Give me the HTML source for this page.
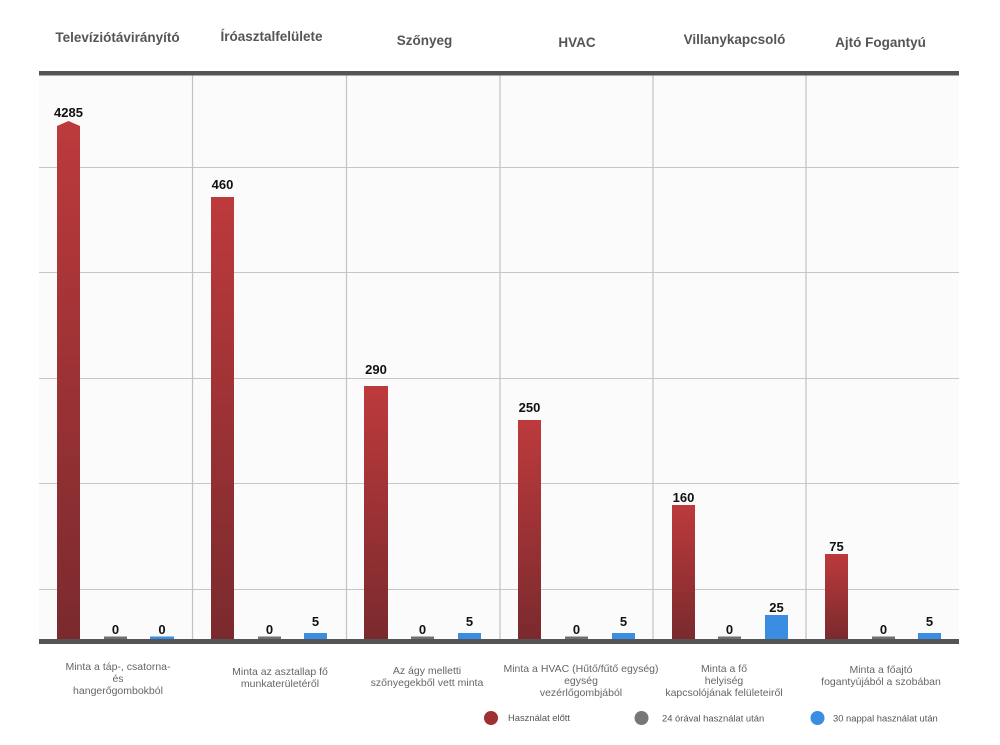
<!DOCTYPE html>
<html><head><meta charset="utf-8"><style>
html,body{margin:0;padding:0;background:#fff;}
svg{display:block;}
.t{font-family:"Liberation Sans",sans-serif;font-weight:bold;font-size:13.5px;fill:#555;text-anchor:middle;}
.v{font-family:"Liberation Sans",sans-serif;font-weight:bold;font-size:13px;fill:#111;text-anchor:middle;}
.c{font-family:"Liberation Sans",sans-serif;font-size:10.5px;fill:#666;text-anchor:middle;}
.l{font-family:"Liberation Sans",sans-serif;font-size:9.4px;fill:#555;}
</style></head><body>
<svg width="1000" height="745" viewBox="0 0 1000 745" xmlns="http://www.w3.org/2000/svg">
<defs>
<linearGradient id="rg" x1="0" y1="0" x2="0" y2="1">
<stop offset="0" stop-color="#bd3a3c"/>
<stop offset="1" stop-color="#7a2a2e"/>
</linearGradient>
</defs>
<rect x="0" y="0" width="1000" height="745" fill="#fff"/>
<rect x="39" y="75" width="920" height="564" fill="#fbfbfb"/>
<!-- horizontal grid -->
<g stroke="#c6c6c6" stroke-width="1">
<line x1="39" y1="167.5" x2="959" y2="167.5"/>
<line x1="39" y1="272.5" x2="959" y2="272.5"/>
<line x1="39" y1="378.5" x2="959" y2="378.5"/>
<line x1="39" y1="483.5" x2="959" y2="483.5"/>
<line x1="39" y1="589.5" x2="959" y2="589.5"/>
</g>
<g stroke="#c2c2c2" stroke-width="1.2">
<line x1="192.5" y1="75" x2="192.5" y2="639"/>
<line x1="346.5" y1="75" x2="346.5" y2="639"/>
<line x1="500" y1="75" x2="500" y2="639"/>
<line x1="653" y1="75" x2="653" y2="639"/>
<line x1="806" y1="75" x2="806" y2="639"/>
</g>
<rect x="39" y="71" width="920" height="4.5" fill="#555"/>
<!-- titles -->
<text class="t" x="117.5" y="42">Televíziótávirányító</text>
<text class="t" x="271.5" y="41">Íróasztalfelülete</text>
<text class="t" x="424.5" y="45">Szőnyeg</text>
<text class="t" x="577" y="47">HVAC</text>
<text class="t" x="734.5" y="44">Villanykapcsoló</text>
<text class="t" x="880.5" y="47">Ajtó Fogantyú</text>
<!-- red bars -->
<path d="M57,639 L57,126 L68.5,121 L80,126 L80,639 Z" fill="url(#rg)"/>
<rect x="211" y="197" width="23" height="442" fill="url(#rg)"/>
<rect x="364" y="386" width="24" height="253" fill="url(#rg)"/>
<rect x="518" y="420" width="23" height="219" fill="url(#rg)"/>
<rect x="672" y="505" width="23" height="134" fill="url(#rg)"/>
<rect x="825" y="554" width="23" height="85" fill="url(#rg)"/>
<!-- gray bars -->
<g fill="#707070">
<rect x="104" y="636.5" width="23" height="3"/>
<rect x="258" y="636.5" width="23" height="3"/>
<rect x="411" y="636.5" width="23" height="3"/>
<rect x="565" y="636.5" width="23" height="3"/>
<rect x="718" y="636.5" width="23" height="3"/>
<rect x="872" y="636.5" width="23" height="3"/>
</g>
<!-- blue bars -->
<g fill="#3a8de0">
<rect x="150" y="636.5" width="24" height="3"/>
<rect x="304" y="633" width="23" height="6"/>
<rect x="458" y="633" width="23" height="6"/>
<rect x="612" y="633" width="23" height="6"/>
<rect x="765" y="615" width="23" height="24"/>
<rect x="918" y="633" width="23" height="6"/>
</g>
<rect x="39" y="639" width="920" height="5" fill="#555"/>
<!-- value labels -->
<text class="v" x="68.5" y="117">4285</text>
<text class="v" x="222.5" y="189">460</text>
<text class="v" x="376" y="374">290</text>
<text class="v" x="529.5" y="412">250</text>
<text class="v" x="683.5" y="502">160</text>
<text class="v" x="836.5" y="551">75</text>
<g>
<text class="v" x="115.5" y="634">0</text>
<text class="v" x="162" y="634">0</text>
<text class="v" x="269.5" y="634">0</text>
<text class="v" x="315.5" y="626">5</text>
<text class="v" x="422.5" y="634">0</text>
<text class="v" x="469.5" y="626">5</text>
<text class="v" x="576.5" y="634">0</text>
<text class="v" x="623.5" y="626">5</text>
<text class="v" x="729.5" y="634">0</text>
<text class="v" x="776.5" y="612">25</text>
<text class="v" x="883.5" y="634">0</text>
<text class="v" x="929.5" y="626">5</text>
</g>
<!-- category labels -->
<text class="c" x="118" y="670">Minta a táp-, csatorna-</text>
<text class="c" x="118" y="682">és</text>
<text class="c" x="118" y="694">hangerőgombokból</text>
<text class="c" x="280" y="675">Minta az asztallap fő</text>
<text class="c" x="280" y="687">munkaterületéről</text>
<text class="c" x="427" y="674">Az ágy melletti</text>
<text class="c" x="427" y="686">szőnyegekből vett minta</text>
<text class="c" x="581" y="672">Minta a HVAC (Hűtő/fűtő egység)</text>
<text class="c" x="581" y="684">egység</text>
<text class="c" x="581" y="696">vezérlőgombjából</text>
<text class="c" x="724" y="672">Minta a fő</text>
<text class="c" x="724" y="684">helyiség</text>
<text class="c" x="724" y="696">kapcsolójának felületeiről</text>
<text class="c" x="881" y="673">Minta a főajtó</text>
<text class="c" x="881" y="685">fogantyújából a szobában</text>
<!-- legend -->
<circle cx="491" cy="718" r="7" fill="#9e3034"/>
<text class="l" x="508" y="721">Használat előtt</text>
<circle cx="641.5" cy="718" r="7" fill="#777"/>
<text class="l" x="662" y="721.5">24 órával használat után</text>
<circle cx="817.5" cy="718" r="7" fill="#3a8de0"/>
<text class="l" x="833" y="721.5">30 nappal használat után</text>
</svg>
</body></html>
